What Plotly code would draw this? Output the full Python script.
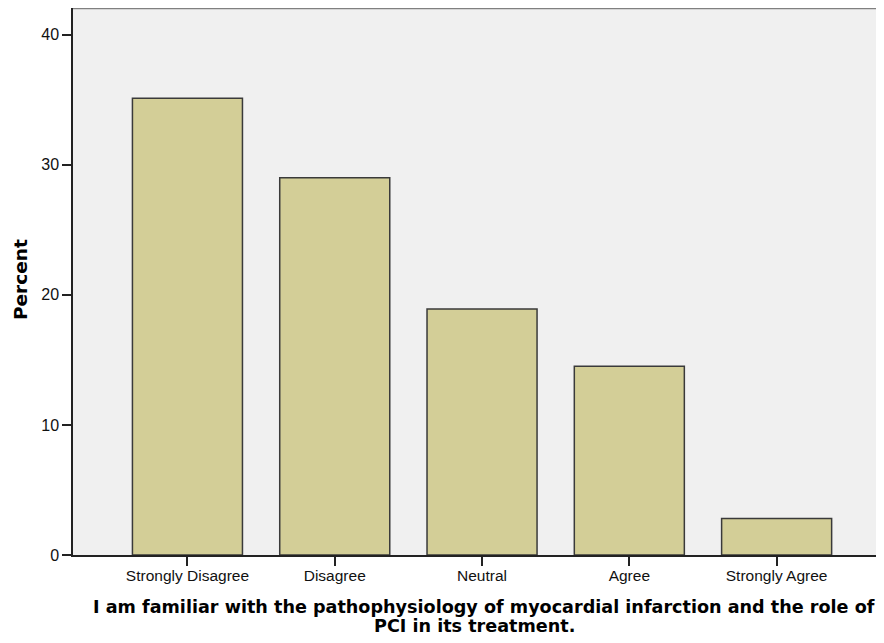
import plotly.graph_objects as go

categories = ["Strongly Disagree", "Disagree", "Neutral", "Agree", "Strongly Agree"]
percent = [35.1, 29.0, 18.9, 14.5, 2.8]
y_ticks = [0, 10, 20, 30, 40]
x_title_1 = "I am familiar with the pathophysiology of myocardial infarction and the role of"
x_title_2 = "PCI in its treatment."
y_title = "Percent"

# page body has an 8px default margin; lay out in screen pixels
O = 8
W, H = 884 - O, 643 - O
plot_left, plot_top, plot_bottom = 73, 8, 555
L = plot_left - O
T = plot_top - O
B = (H + O) - plot_bottom
R = 0
pw, ph = W - L - R, H - T - B
px_per_unit = 13.01
y_max = ph / px_per_unit

fig = go.Figure(go.Bar(
    x=list(range(len(categories))), y=percent,
    marker=dict(color="#D3CE97", line=dict(color="#3a3a3a", width=1.5)),
    width=0.747,
))

def xp(px):
    return (px - plot_left) / pw

def yp(py):
    return (plot_bottom - py) / ph

fig.update_layout(
    width=W, height=H,
    margin=dict(l=L, r=R, t=T, b=B, pad=0),
    paper_bgcolor="white", plot_bgcolor="#F0F0F0",
    showlegend=False,
    xaxis=dict(
        range=[-0.777, 4.729], tickmode="array",
        tickvals=list(range(len(categories))), ticktext=categories,
        ticks="outside", ticklen=9, tickwidth=1.5, tickcolor="#222",
        ticklabelstandoff=-3,
        showline=True, linecolor="#222", linewidth=1.5,
        showgrid=False, zeroline=False,
        tickfont=dict(family="Liberation Sans, Arial", size=15.5, color="#111"),
    ),
    yaxis=dict(
        range=[0, y_max], tickmode="array", tickvals=y_ticks,
        ticks="outside", ticklen=9, tickwidth=1.5, tickcolor="#222",
        showline=True, linecolor="#222", linewidth=1.5,
        showgrid=False, zeroline=False,
        tickfont=dict(family="Liberation Sans, Arial", size=16, color="#111"),
    ),
    shapes=[dict(type="line", xref="paper", yref="paper", x0=0, x1=1, y0=1, y1=1,
                 line=dict(color="#808080", width=2.5))],
    annotations=[
        dict(text="<b>" + y_title + "</b>", xref="paper", yref="paper",
             x=xp(20), y=yp(280), textangle=-90, showarrow=False,
             xanchor="center", yanchor="middle",
             font=dict(family="DejaVu Sans", size=18.5, color="#000")),
        dict(text="<b>" + x_title_1 + "</b>", xref="paper", yref="paper",
             x=xp(484), y=yp(607), showarrow=False,
             xanchor="center", yanchor="middle",
             font=dict(family="DejaVu Sans", size=17.6, color="#000")),
        dict(text="<b>" + x_title_2 + "</b>", xref="paper", yref="paper",
             x=xp(474), y=yp(626), showarrow=False,
             xanchor="center", yanchor="middle",
             font=dict(family="DejaVu Sans", size=17.6, color="#000")),
    ],
)

fig.write_html("out.html")
